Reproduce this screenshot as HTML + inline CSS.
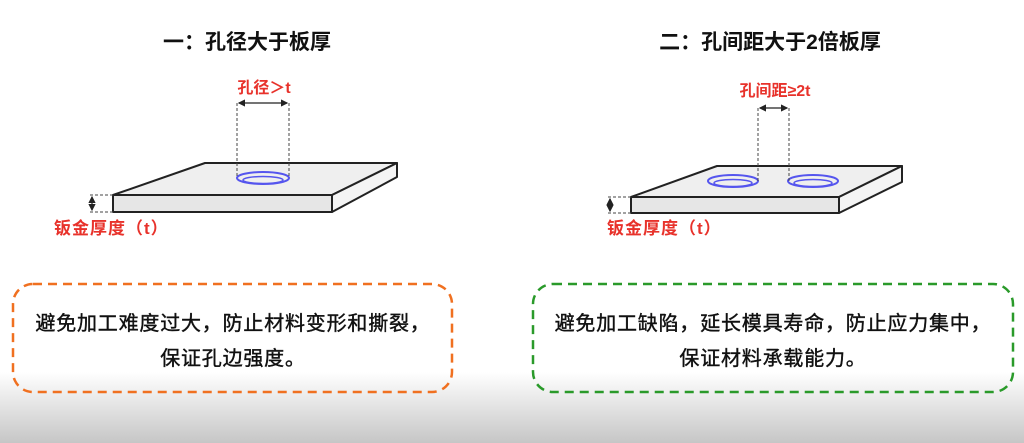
<!DOCTYPE html>
<html><head><meta charset="utf-8"><style>
html,body{margin:0;padding:0;width:1024px;height:443px;overflow:hidden;background:#fff}
svg{display:block}
text{font-family:"Liberation Sans","Noto Sans CJK SC",sans-serif}
</style></head><body>
<svg width="1024" height="443" viewBox="0 0 1024 443">
<defs>
<linearGradient id="bg" x1="0" y1="0" x2="0" y2="1">
<stop offset="0" stop-color="#fff"/><stop offset="0.84" stop-color="#fff"/><stop offset="1" stop-color="#c6c6c6"/>
</linearGradient>
<marker id="ar" markerWidth="6" markerHeight="6" refX="5" refY="3" orient="auto-start-reverse"><path d="M0,0 L6,3 L0,6z" fill="#222"/></marker>
</defs>
<rect width="1024" height="443" fill="url(#bg)"/>
<text x="247" y="49" font-size="21" font-weight="bold" text-anchor="middle" fill="#111">一：孔径大于板厚</text>
<text x="770" y="49" font-size="21" font-weight="bold" text-anchor="middle" fill="#111">二：孔间距大于2倍板厚</text>

<!-- left plate -->
<g stroke="#222" stroke-width="2" stroke-linejoin="round">
<polygon points="113,195 205,163 397,163 332,195" fill="#efefef"/>
<polygon points="113,195 332,195 332,212 113,212" fill="#e6e6e6"/>
<polygon points="332,195 397,163 397,177 332,212" fill="#f4f4f4"/>
</g>
<ellipse cx="263" cy="178" rx="26" ry="6" fill="none" stroke="#5555ee" stroke-width="2"/>
<ellipse cx="263" cy="180" rx="20" ry="3.5" fill="none" stroke="#5555ee" stroke-width="1.5"/>
<g stroke="#444" stroke-width="1" stroke-dasharray="3,2" fill="none">
<line x1="237" y1="103" x2="237" y2="178"/><line x1="289" y1="103" x2="289" y2="178"/>
<line x1="90" y1="195" x2="113" y2="195"/><line x1="90" y1="212" x2="113" y2="212"/>
</g>
<line x1="239" y1="103" x2="287" y2="103" stroke="#222" stroke-width="1.2" marker-start="url(#ar)" marker-end="url(#ar)"/>
<line x1="92" y1="197" x2="92" y2="210" stroke="#222" stroke-width="1.2" marker-start="url(#ar)" marker-end="url(#ar)"/>
<text x="264" y="93" font-size="16" font-weight="bold" text-anchor="middle" fill="#e8322b">孔径＞t</text>
<text x="54" y="234" font-size="17" font-weight="bold" fill="#e8322b" letter-spacing="1">钣金厚度（t）</text>

<!-- right plate -->
<g stroke="#222" stroke-width="2" stroke-linejoin="round">
<polygon points="631,197 717,166 902,166 839,197" fill="#efefef"/>
<polygon points="631,197 839,197 839,213 631,213" fill="#e6e6e6"/>
<polygon points="839,197 902,166 902,182 839,213" fill="#f4f4f4"/>
</g>
<ellipse cx="733" cy="181" rx="25" ry="6" fill="none" stroke="#5555ee" stroke-width="2"/>
<ellipse cx="733" cy="183" rx="19" ry="3.5" fill="none" stroke="#5555ee" stroke-width="1.5"/>
<ellipse cx="813" cy="181" rx="25" ry="6" fill="none" stroke="#5555ee" stroke-width="2"/>
<ellipse cx="813" cy="183" rx="19" ry="3.5" fill="none" stroke="#5555ee" stroke-width="1.5"/>
<g stroke="#444" stroke-width="1" stroke-dasharray="3,2" fill="none">
<line x1="758" y1="108" x2="758" y2="181"/><line x1="789" y1="108" x2="789" y2="181"/>
<line x1="608" y1="197" x2="631" y2="197"/><line x1="608" y1="213" x2="631" y2="213"/>
</g>
<line x1="760" y1="108" x2="787" y2="108" stroke="#222" stroke-width="1.2" marker-start="url(#ar)" marker-end="url(#ar)"/>
<line x1="610" y1="199" x2="610" y2="211" stroke="#222" stroke-width="1.2" marker-start="url(#ar)" marker-end="url(#ar)"/>
<text x="775" y="96" font-size="16" font-weight="bold" text-anchor="middle" fill="#e8322b">孔间距≥2t</text>
<text x="607" y="234" font-size="17" font-weight="bold" fill="#e8322b" letter-spacing="1">钣金厚度（t）</text>

<!-- boxes -->
<rect x="13" y="284" width="439" height="108" rx="20" fill="none" stroke="#f07020" stroke-width="2.5" stroke-dasharray="9,6"/>
<rect x="533" y="284" width="480" height="108" rx="20" fill="none" stroke="#2a9a2a" stroke-width="2.5" stroke-dasharray="9,6"/>
<g font-size="20" text-anchor="middle" fill="#111" stroke="#111" stroke-width="0.4" letter-spacing="0.8">
<text x="233" y="330">避免加工难度过大，防止材料变形和撕裂，</text>
<text x="233" y="365">保证孔边强度。</text>
<text x="773" y="330">避免加工缺陷，延长模具寿命，防止应力集中，</text>
<text x="773" y="365">保证材料承载能力。</text>
</g>
</svg>
</body></html>
